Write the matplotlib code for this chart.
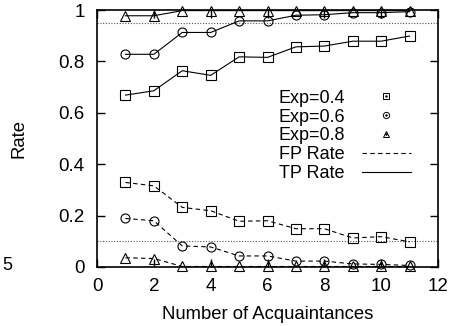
import matplotlib
matplotlib.use("Agg")
import matplotlib.pyplot as plt
from matplotlib.lines import Line2D
from matplotlib.legend_handler import HandlerTuple

plt.rcParams["font.family"] = ["Liberation Sans", "DejaVu Sans"]

# number of acquaintances
acq = [1, 2, 3, 4, 5, 6, 7, 8, 9, 10, 11]

# true positive rates
tp_04 = [0.669, 0.686, 0.764, 0.746, 0.818, 0.816, 0.857, 0.860, 0.879, 0.879, 0.899]
tp_06 = [0.828, 0.828, 0.913, 0.913, 0.958, 0.958, 0.980, 0.982, 0.990, 0.990, 0.994]
tp_08 = [0.978, 0.978, 0.998, 0.998, 0.998, 0.998, 0.998, 0.998, 0.998, 0.998, 0.998]

# false positive rates
fp_04 = [0.329, 0.316, 0.232, 0.219, 0.178, 0.180, 0.149, 0.149, 0.113, 0.118, 0.098]
fp_06 = [0.189, 0.180, 0.082, 0.078, 0.043, 0.043, 0.023, 0.023, 0.012, 0.010, 0.006]
fp_08 = [0.036, 0.033, 0.002, 0.002, 0.002, 0.002, 0.002, 0.002, 0.002, 0.002, 0.002]

# reference levels
tp_target = 0.95
fp_target = 0.1

exp_labels = ["Exp=0.4", "Exp=0.6", "Exp=0.8"]
markers = ["s", "o", "^"]

fig = plt.figure(figsize=(4.5, 3.26), dpi=100)
ax = fig.add_axes([0.2156, 0.181, 0.7577, 0.788])

ax.axhline(tp_target, color="#555555", lw=0.8, ls=(0, (1, 1.5)))
ax.axhline(fp_target, color="#555555", lw=0.8, ls=(0, (1, 1.5)))

ms = 6.5
for tp, fp, m in zip([tp_04, tp_06, tp_08], [fp_04, fp_06, fp_08], markers):
    ax.plot(acq, tp, color="black", lw=0.8, marker=m, ms=ms,
            mfc="none", mec="black", mew=0.8, clip_on=False)
    ax.plot(acq, fp, color="black", lw=0.8, ls=(0, (4, 3)), marker=m, ms=ms,
            mfc="none", mec="black", mew=0.8, clip_on=False)

ax.set_xlim(0, 12)
ax.set_ylim(0, 1)
ax.set_xticks([0, 2, 4, 6, 8, 10, 12])
ax.set_yticks([0, 0.2, 0.4, 0.6, 0.8, 1.0])
ax.set_yticklabels(["0", "0.2", "0.4", "0.6", "0.8", "1"])
ax.tick_params(direction="in", length=6, width=1, top=True, right=True,
               labelsize=13.5)
ax.tick_params(axis="x", pad=8)
ax.tick_params(axis="y", pad=9)
for s in ax.spines.values():
    s.set_linewidth(1.2)

ax.set_xlabel("Number of Acquaintances", fontsize=13.3, labelpad=8)
ax.set_ylabel("Rate", fontsize=13.3, labelpad=22)

# legend: marker handles with a centre dot, then line styles
handles = []
for m in markers:
    outer = Line2D([], [], ls="none", marker=m, ms=4.5, mfc="none",
                   mec="black", mew=0.7)
    dot = Line2D([], [], ls="none", marker=".", ms=1.5, color="black")
    handles.append((outer, dot))
handles.append(Line2D([], [], color="black", lw=0.8, ls=(0, (4, 3))))
handles.append(Line2D([], [], color="black", lw=0.8))
labels = exp_labels + ["FP Rate", "TP Rate"]

ax.legend(handles, labels, loc="upper left", bbox_to_anchor=(0.531, 0.69),
          markerfirst=False, frameon=False, fontsize=13,
          handlelength=2.7, handletextpad=0.95, labelspacing=0.1,
          borderaxespad=0, borderpad=0,
          handler_map={tuple: HandlerTuple(ndivide=1)})

# clipped tick label from the neighbouring panel
fig.text(12 / 450, 1 - 265 / 326, "5", fontsize=13, ha="right", va="center")

fig.savefig("out.png", dpi=100)
